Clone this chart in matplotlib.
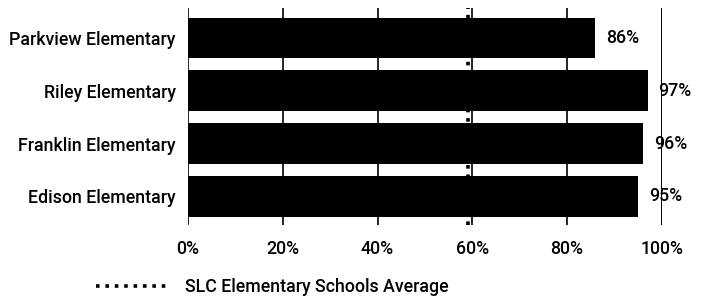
import matplotlib
matplotlib.use("Agg")
import matplotlib.pyplot as plt
from matplotlib.lines import Line2D

schools = ["Parkview Elementary", "Riley Elementary", "Franklin Elementary", "Edison Elementary"]
values = [86, 97, 96, 95]
slc_average = 59
x_ticks = [0, 20, 40, 60, 80, 100]
x_tick_labels = ["0%", "20%", "40%", "60%", "80%", "100%"]
legend_label = "SLC Elementary Schools Average"

plt.rcParams['font.family'] = ['Roboto', 'DejaVu Sans']
plt.rcParams['font.weight'] = 'medium'
FS = 12.8

fig = plt.figure(figsize=(7.07, 2.98), dpi=100)
ax = fig.add_axes([0.266, 0.245, 0.670, 0.728])

ypos = list(range(len(schools)))
for x in x_ticks:
    ax.axvline(x, color='black', lw=1.4 if x == 100 else 1.2, zorder=1)
dot_style = (0, (1.0, 1.6))
ax.axvline(slc_average, color='black', lw=2.6, linestyle=dot_style, zorder=1)
ax.barh(ypos, values, height=0.76, color='black', zorder=2)
for y, v in zip(ypos, values):
    ax.text(v + 2.3, y, f"{v}%", va='center', ha='left', fontsize=FS, color='black', zorder=3)

ax.set_xlim(0, 100)
ax.set_ylim(3.54, -0.56)
ax.set_yticks(ypos)
ax.set_yticklabels(schools, fontsize=FS)
ax.set_xticks(x_ticks)
ax.set_xticklabels(x_tick_labels, fontsize=FS)
ax.tick_params(length=0)
ax.tick_params(axis='x', pad=11)
ax.tick_params(axis='y', pad=9)
for s in ax.spines.values():
    s.set_visible(False)

handle = Line2D([], [], color='black', lw=2.6, linestyle=dot_style)
fig.legend([handle], [legend_label], loc='center left', bbox_to_anchor=(96 / 707, 1 - 287 / 298),
           frameon=False, fontsize=FS, handlelength=4.2, handletextpad=0.8,
           borderpad=0, borderaxespad=0)

fig.savefig("out.png", dpi=100)
